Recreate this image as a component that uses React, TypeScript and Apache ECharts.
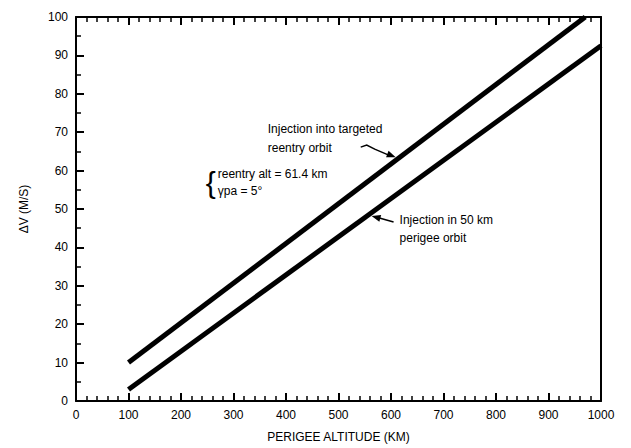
import React, { useEffect, useRef } from "react";
import * as echarts from "echarts";

// ---- data ----
const X_NAME = "PERIGEE ALTITUDE (KM)";
const Y_NAME = "ΔV (M/S)";
const xRange = [0, 1000];
const yRange = [0, 100];
// line: injection into targeted reentry orbit
const reentryOrbitLine = [
  [100, 10],
  [970, 100],
];
// line: injection in 50 km perigee orbit
const perigeeOrbitLine = [
  [100, 3],
  [1000, 92.5],
];
const reentryLabel = ["Injection into targeted", "reentry orbit"];
const conditionLabel = ["reentry alt = 61.4 km", "γpa = 5°"];
const perigeeLabel = ["Injection in 50 km", "perigee orbit"];
// arrow tips (data coordinates, on the edge of each line)
const reentryArrowTip = [609, 63.5];
const perigeeArrowTip = [563, 48.2];

const FONT = "'Liberation Sans', Arial, sans-serif";

function arrowHead(tip: number[], from: number[], len: number, half: number) {
  const dx = tip[0] - from[0];
  const dy = tip[1] - from[1];
  const d = Math.sqrt(dx * dx + dy * dy) || 1;
  const ux = dx / d;
  const uy = dy / d;
  const bx = tip[0] - ux * len;
  const by = tip[1] - uy * len;
  return [
    [tip[0], tip[1]],
    [bx - uy * half, by + ux * half],
    [bx + uy * half, by - ux * half],
  ];
}

export default function App() {
  const ref = useRef<HTMLDivElement>(null);
  useEffect(() => {
    const chart = echarts.init(ref.current!, null, { renderer: "svg" });
    const axisLine = (onZero: boolean) => ({ show: true, onZero, lineStyle: { color: "#000", width: 2 } });
    const tick = () => ({ show: true, inside: true, length: 8, lineStyle: { color: "#000", width: 2 } });
    const minor = (n: number) => ({
      show: true,
      splitNumber: n,
      length: 5,
      lineStyle: { color: "#000", width: 1.5 },
    });
    const plain = (v: number) => String(v);
    chart.setOption({
      animation: false,
      backgroundColor: "#fff",
      grid: { left: 76, right: 30, top: 17, bottom: 47 },
      xAxis: [
        {
          type: "value",
          min: xRange[0],
          max: xRange[1],
          interval: 100,
          position: "bottom",
          name: X_NAME,
          nameLocation: "middle",
          nameGap: 30,
          nameTextStyle: { color: "#000", fontSize: 12, fontFamily: FONT },
          axisLine: axisLine(true),
          axisTick: tick(),
          minorTick: minor(5),
          axisLabel: { color: "#000", fontSize: 12, margin: 8, fontFamily: FONT, formatter: plain },
          splitLine: { show: false },
        },
        {
          type: "value",
          min: xRange[0],
          max: xRange[1],
          interval: 100,
          position: "top",
          axisLine: axisLine(false),
          axisTick: tick(),
          minorTick: minor(5),
          axisLabel: { show: false },
          splitLine: { show: false },
        },
      ],
      yAxis: [
        {
          type: "value",
          min: yRange[0],
          max: yRange[1],
          interval: 10,
          position: "left",
          name: Y_NAME,
          nameLocation: "middle",
          nameGap: 46,
          nameRotate: 90,
          nameTextStyle: { color: "#000", fontSize: 12, fontFamily: FONT },
          axisLine: axisLine(true),
          axisTick: tick(),
          minorTick: minor(2),
          axisLabel: { color: "#000", fontSize: 12, margin: 8, fontFamily: FONT, formatter: plain },
          splitLine: { show: false },
        },
        {
          type: "value",
          min: yRange[0],
          max: yRange[1],
          interval: 10,
          position: "right",
          axisLine: axisLine(false),
          axisTick: { show: false },
          axisLabel: { show: false },
          splitLine: { show: false },
        },
      ],
      series: [
        {
          name: "Injection into targeted reentry orbit",
          type: "line",
          data: reentryOrbitLine,
          symbol: "none",
          lineStyle: { color: "#000", width: 5 },
        },
        {
          name: "Injection in 50 km perigee orbit",
          type: "line",
          data: perigeeOrbitLine,
          symbol: "none",
          lineStyle: { color: "#000", width: 5 },
        },
      ],
    });

    const p = (pt: number[]) => chart.convertToPixel({ xAxisIndex: 0, yAxisIndex: 0 }, pt) as number[];
    const t1 = p(reentryArrowTip);
    const t2 = p(perigeeArrowTip);
    const tail1 = [t1[0] - 35, t1[1] - 10];
    const tail2 = [t2[0] + 22, t2[1] + 6];
    const txt = (s: string, x: number, y: number, size = 12) => ({
      type: "text",
      x,
      y,
      style: { text: s, fill: "#000", font: `${size}px ${FONT}`, textVerticalAlign: "middle" },
    });
    chart.setOption({
      graphic: [
        txt(reentryLabel[0], t1[0] - 128, t1[1] - 28),
        txt(reentryLabel[1], t1[0] - 128, t1[1] - 9),
        {
          type: "polyline",
          shape: {
            points: [
              [tail1[0], tail1[1]],
              [tail1[0] + 6, tail1[1] - 2],
              [tail1[0] + 14, tail1[1] + 2],
              [t1[0] - 7, t1[1] - 2],
            ],
          },
          style: { stroke: "#000", lineWidth: 1.5, fill: null },
        },
        {
          type: "polygon",
          shape: { points: arrowHead(t1, [tail1[0] + 14, tail1[1] + 2], 9, 3.5) },
          style: { fill: "#000" },
        },
        txt("{", t1[0] - 190, t1[1] + 25, 30),
        txt(conditionLabel[0], t1[0] - 178, t1[1] + 17),
        txt(conditionLabel[1], t1[0] - 178, t1[1] + 34),
        {
          type: "line",
          shape: { x1: tail2[0], y1: tail2[1], x2: t2[0] + 6, y2: t2[1] + 1.6 },
          style: { stroke: "#000", lineWidth: 1.5 },
        },
        {
          type: "polygon",
          shape: { points: arrowHead(t2, tail2, 9, 3.5) },
          style: { fill: "#000" },
        },
        txt(perigeeLabel[0], t2[0] + 28, t2[1] + 4),
        txt(perigeeLabel[1], t2[0] + 28, t2[1] + 22),
      ],
    });
    return () => chart.dispose();
  }, []);
  return (
    <div
      ref={ref}
      style={{ position: "fixed", left: 0, top: 0, width: 631, height: 448, background: "#fff" }}
    />
  );
}
